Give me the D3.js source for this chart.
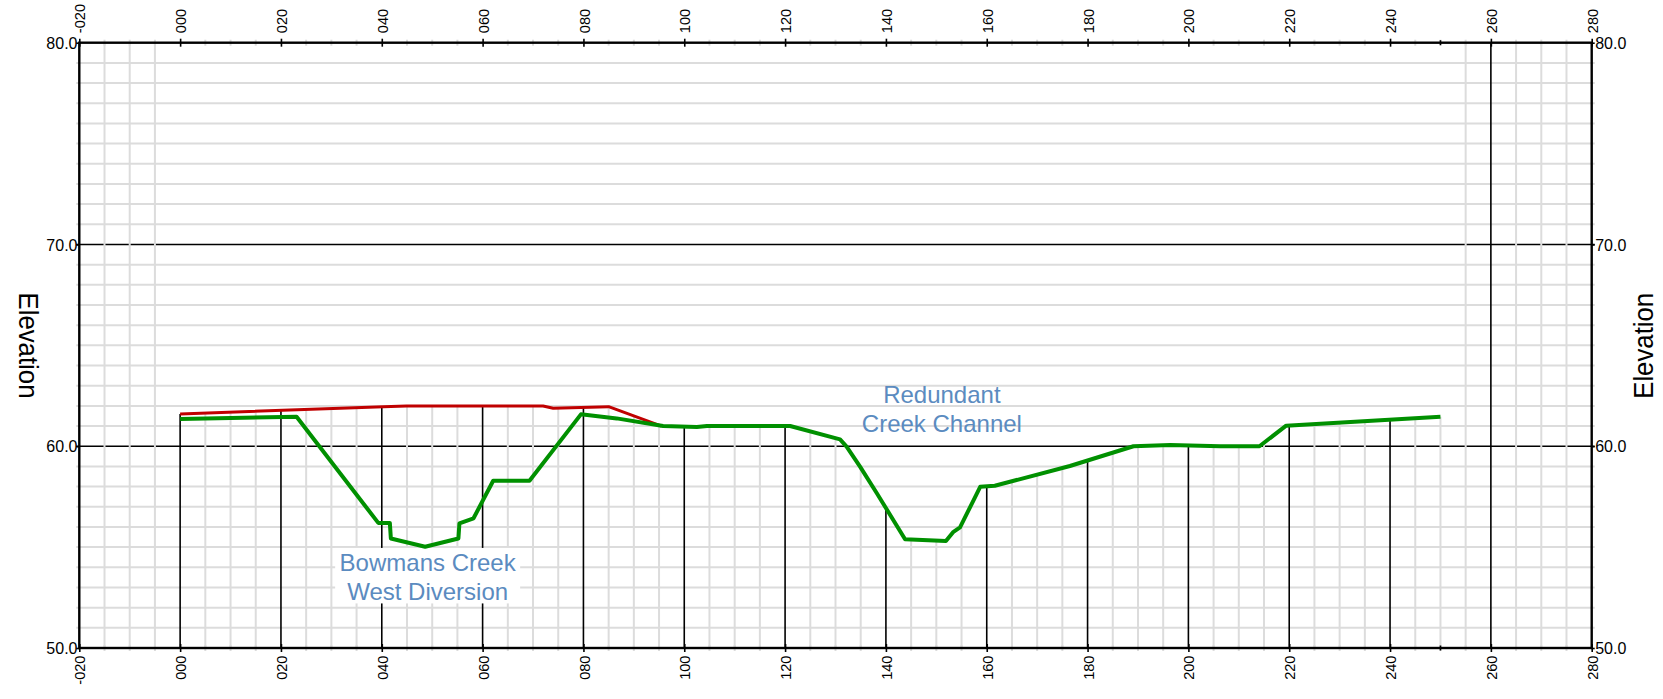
<!DOCTYPE html>
<html>
<head>
<meta charset="utf-8">
<script src="https://cdn.jsdelivr.net/npm/d3@7"></script>
<style>
  html, body { margin: 0; padding: 0; background: #fff; }
  svg { display: block; font-family: "Liberation Sans", Arial, sans-serif; }
</style>
</head>
<body>
<svg id="chart" width="1663" height="699"></svg>
<script>
// ---------- data ----------
const stationDomain = [-20, 280];
const elevationDomain = [50, 80];
const stationMajorTicks = [-20, 0, 20, 40, 60, 80, 100, 120, 140, 160, 180, 200, 220, 240, 260, 280];
const elevationMajorTicks = [50, 60, 70, 80];
const stationMinorStep = 5;
const elevationMinorStep = 1;

// Ground profile (green)
const groundStation = [0, 23.1, 39.3, 41.6, 41.8, 48.6, 55.2, 55.4, 58.2, 62.1, 69.3, 79.5, 86.6, 95.8, 102.5, 104.5, 121.0, 130.9, 132.2, 134.9, 138.2, 143.8, 151.9, 153.4, 154.7, 157.4, 158.7, 161.6, 176.5, 189.1, 196.4, 206.3, 214.1, 219.4, 250.0];
const groundElev    = [61.35, 61.46, 56.2, 56.2, 55.43, 55.02, 55.43, 56.18, 56.43, 58.29, 58.29, 61.58, 61.38, 61.0, 60.95, 61.0, 61.0, 60.34, 59.98, 58.98, 57.67, 55.39, 55.3, 55.76, 55.98, 57.33, 57.99, 58.04, 59.02, 60.0, 60.06, 60.0, 60.0, 61.02, 61.46];

// Upper profile (red)
const upperStation = [0, 40.3, 44.9, 72.0, 74.0, 85.0, 95.5];
const upperElev    = [61.6, 61.96, 62.0, 61.99, 61.88, 61.96, 61.0];

// Annotations
const annotationLines = [["Bowmans Creek", "West Diversion"], ["Redundant", "Creek Channel"]];
const annotationStation = [49.1, 151.1];
const annotationElev = [53.82, 62.13];
const annotationBoxed = [true, false];

const axisTitle = "Elevation";

// ---------- layout ----------
const svg = d3.select("#chart");
const x = d3.scaleLinear().domain(stationDomain).range([79.3, 1591.7]);
const y = d3.scaleLinear().domain(elevationDomain).range([648, 42.7]);
const X0 = x.range()[0], X1 = x.range()[1], Y0 = y.range()[0], Y1 = y.range()[1];

const GRID = "#dcdcdc";
const fmtStation = d => (d < 0 ? "-" : "") + String(Math.abs(d)).padStart(3, "0");
const fmtElev = d3.format(".1f");

const series = [
  { s: groundStation, e: groundElev, color: "#009000", width: 4 },
  { s: upperStation, e: upperElev, color: "#c00000", width: 3 }
];
function interp(ser, st) {
  if (st < ser.s[0] || st > ser.s[ser.s.length - 1]) return null;
  const i = d3.bisectLeft(ser.s, st);
  if (ser.s[i] === st) return ser.e[i];
  const a = i - 1, b = i;
  const t = (st - ser.s[a]) / (ser.s[b] - ser.s[a]);
  return ser.e[a] + t * (ser.e[b] - ser.e[a]);
}
function topElev(st) {
  const vals = series.map(ser => interp(ser, st)).filter(v => v !== null);
  return vals.length ? d3.max(vals) : elevationDomain[1];
}

const minorStations = d3.range(stationDomain[0], stationDomain[1] + 0.001, stationMinorStep)
  .filter(d => !stationMajorTicks.includes(d));
const minorElevs = d3.range(elevationDomain[0], elevationDomain[1] + 0.001, elevationMinorStep)
  .filter(d => !elevationMajorTicks.includes(d));

const g = svg.append("g");

// light horizontal grid
g.append("g").selectAll("line").data(minorElevs).join("line")
  .attr("x1", X0 - 3).attr("x2", X1 + 3)
  .attr("y1", d => y(d)).attr("y2", d => y(d))
  .attr("stroke", GRID).attr("stroke-width", 2);

// black horizontal grid
g.append("g").selectAll("line").data(elevationMajorTicks.slice(1, -1)).join("line")
  .attr("x1", X0 - 3).attr("x2", X1 + 3)
  .attr("y1", d => y(d)).attr("y2", d => y(d))
  .attr("stroke", "#000").attr("stroke-width", 1.6);

// light vertical grid (clipped at the profile)
g.append("g").selectAll("line").data(minorStations).join("line")
  .attr("x1", d => x(d)).attr("x2", d => x(d))
  .attr("y1", Y0).attr("y2", d => y(topElev(d)))
  .attr("stroke", GRID).attr("stroke-width", 2);
// light stubs on top/bottom axes
g.append("g").selectAll("line").data(minorStations).join("line")
  .attr("x1", d => x(d)).attr("x2", d => x(d))
  .attr("y1", Y1 - 3).attr("y2", Y1 + 3)
  .attr("stroke", GRID).attr("stroke-width", 2);
g.append("g").selectAll("line").data(minorStations).join("line")
  .attr("x1", d => x(d)).attr("x2", d => x(d))
  .attr("y1", Y0 - 3).attr("y2", Y0 + 3)
  .attr("stroke", GRID).attr("stroke-width", 2);

// black vertical grid (clipped at the profile)
g.append("g").selectAll("line").data(stationMajorTicks.slice(1, -1)).join("line")
  .attr("x1", d => x(d)).attr("x2", d => x(d))
  .attr("y1", Y0).attr("y2", d => y(topElev(d)))
  .attr("stroke", "#000").attr("stroke-width", 1.6);

// frame
g.append("rect").attr("x", X0).attr("y", Y1).attr("width", X1 - X0).attr("height", Y0 - Y1)
  .attr("fill", "none").attr("stroke", "#000").attr("stroke-width", 2.4);

// axes ticks via d3 axes
const topAxis = d3.axisTop(x).tickValues(stationMajorTicks).tickSize(4).tickFormat(fmtStation);
const botAxis = d3.axisBottom(x).tickValues(stationMajorTicks).tickSize(4).tickFormat(fmtStation);
const leftAxis = d3.axisLeft(y).tickValues(elevationMajorTicks).tickSize(3).tickFormat(fmtElev);
const rightAxis = d3.axisRight(y).tickValues(elevationMajorTicks).tickSize(3).tickFormat(fmtElev);

function styleAxis(sel) {
  sel.select(".domain").remove();
  sel.selectAll(".tick line").attr("stroke", "#000").attr("stroke-width", 1.6);
  sel.selectAll(".tick text").attr("fill", "#000").attr("font-family", "'Liberation Sans', Arial, sans-serif");
}
const ta = g.append("g").attr("transform", `translate(0,${Y1})`).call(topAxis).call(styleAxis);
ta.selectAll(".tick line").attr("y2", -4).attr("y1", 4);
ta.selectAll(".tick text").attr("font-size", 14.6)
  .attr("transform", "translate(5.6,-9.5) rotate(-90)")
  .attr("x", 0).attr("y", 0).attr("dy", 0).attr("text-anchor", "start");

const ba = g.append("g").attr("transform", `translate(0,${Y0})`).call(botAxis).call(styleAxis);
ba.selectAll(".tick line").attr("y1", -4).attr("y2", 4);
ba.selectAll(".tick text").attr("font-size", 14.6)
  .attr("transform", "translate(5.6,7.5) rotate(-90)")
  .attr("x", 0).attr("y", 0).attr("dy", 0).attr("text-anchor", "end");

const la = g.append("g").attr("transform", `translate(${X0},0)`).call(leftAxis).call(styleAxis);
la.selectAll(".tick text").attr("font-size", 16).attr("x", -1.8).attr("dy", "0.36em");
const ra = g.append("g").attr("transform", `translate(${X1},0)`).call(rightAxis).call(styleAxis);
ra.selectAll(".tick text").attr("font-size", 16).attr("x", 3.5).attr("dy", "0.36em");

// profile end small ticks
const endStation = d3.max(groundStation);
g.append("g").selectAll("line").data([[Y1 - 2.5, Y1 + 2.5], [Y0 - 2.5, Y0 + 2.5]]).join("line")
  .attr("x1", x(endStation)).attr("x2", x(endStation))
  .attr("y1", d => d[0]).attr("y2", d => d[1])
  .attr("stroke", "#000").attr("stroke-width", 1.6);

// axis titles
svg.append("text").text(axisTitle)
  .attr("transform", `translate(18.5,345.5) rotate(90)`)
  .attr("text-anchor", "middle").attr("font-size", 27)
  .attr("textLength", 106).attr("lengthAdjust", "spacingAndGlyphs").attr("fill", "#000");
svg.append("text").text(axisTitle)
  .attr("transform", `translate(1652.5,345.8) rotate(-90)`)
  .attr("text-anchor", "middle").attr("font-size", 27)
  .attr("textLength", 106).attr("lengthAdjust", "spacingAndGlyphs").attr("fill", "#000");

// annotations
const ann = svg.append("g");
annotationLines.forEach((lines, i) => {
  const cx = x(annotationStation[i]);
  const by = y(annotationElev[i]);
  const grp = ann.append("g");
  if (annotationBoxed[i]) {
    grp.append("rect").attr("x", cx - 92.5).attr("y", by - 23).attr("width", 185).attr("height", 55.5)
      .attr("fill", "#fff");
  }
  const t = grp.append("text").attr("font-size", 24).attr("fill", "#5b8bc0").attr("text-anchor", "middle");
  lines.forEach((ln, j) => {
    t.append("tspan").attr("x", cx).attr("y", by + j * 28.7).text(ln);
  });
});

// profiles
const line = d3.line().x(d => x(d[0])).y(d => y(d[1]));
[series[1], series[0]].forEach(ser => {
  svg.append("path").datum(d3.zip(ser.s, ser.e)).attr("d", line)
    .attr("fill", "none").attr("stroke", ser.color).attr("stroke-width", ser.width)
    .attr("stroke-linejoin", "round").attr("stroke-linecap", "butt");
});
</script>
</body>
</html>
